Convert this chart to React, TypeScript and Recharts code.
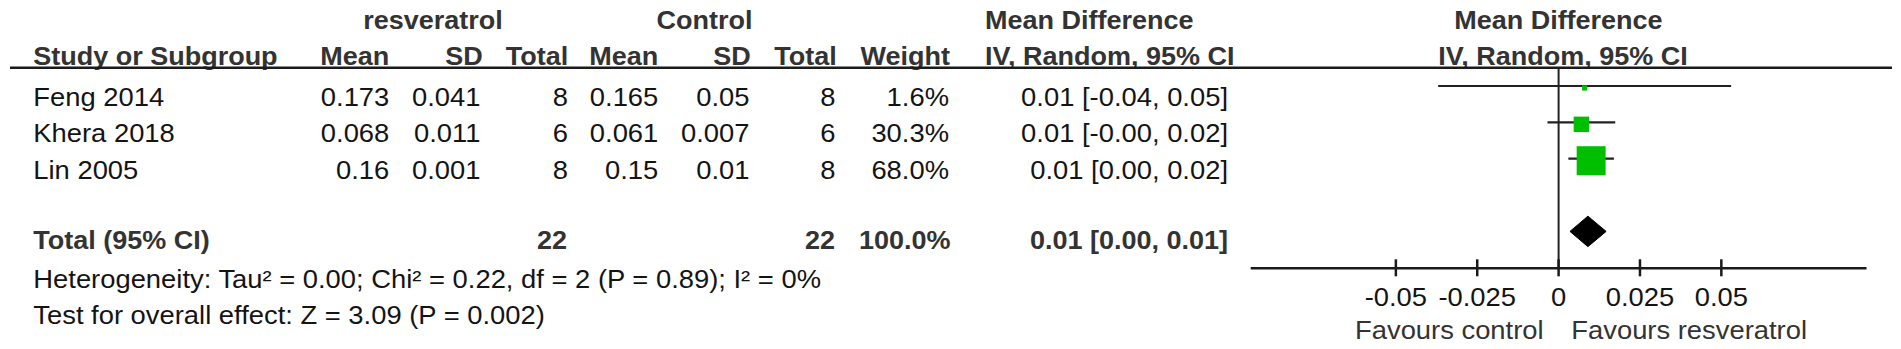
import { Area, ComposedChart, Line, ReferenceLine, Scatter, XAxis, YAxis } from 'recharts'

const STUDIES = ['Feng 2014', 'Khera 2018', 'Lin 2005']
const RES_MEAN = [0.173, 0.068, 0.16]
const RES_SD = [0.041, 0.011, 0.001]
const RES_N = [8, 6, 8]
const CTRL_MEAN = [0.165, 0.061, 0.15]
const CTRL_SD = [0.05, 0.007, 0.01]
const CTRL_N = [8, 6, 8]
const WEIGHT = [1.6, 30.3, 68.0]
const MD = [0.008, 0.007, 0.01]
const CI_LOW = [-0.037, -0.0034, 0.003]
const CI_HIGH = [0.053, 0.0174, 0.017]

const TOTAL_MD = 0.009
const TOTAL_LOW = 0.0035
const TOTAL_HIGH = 0.0146
const TOTAL_RES_N = 22
const TOTAL_CTRL_N = 22
const TOTAL_WEIGHT = 100

const HETEROGENEITY = 'Heterogeneity: Tau² = 0.00; Chi² = 0.22, df = 2 (P = 0.89); I² = 0%'
const OVERALL = 'Test for overall effect: Z = 3.09 (P = 0.002)'

const TICKS = [-0.05, -0.025, 0, 0.025, 0.05]
const TICK_LABELS = ['-0.05', '-0.025', '0', '0.025', '0.05']

const W = 1901
const H = 349
const FONT = '"Liberation Sans", Arial, sans-serif'
const HEAD = '#333333'
const BODY = '#141414'
const GREEN = '#00bf00'
const ROW_H = 36.35
const TOTAL_ROW = STUDIES.length + 1
const DIAMOND_HALF = 0.42

const fmtCI = (m: number, lo: number, hi: number) => `${m.toFixed(2)} [${lo.toFixed(2)}, ${hi.toFixed(2)}]`

// RevMan export is a bit wider than Arial, so stretch text horizontally
function Txt({ x, y, anchor = 'start', bold = false, color = BODY, children }: any) {
  const sx = bold ? 1.08 : 1.095
  return (
    <text
      transform={`translate(${x} ${y}) scale(${sx} 1)`}
      textAnchor={anchor}
      fontFamily={FONT}
      fontSize={25}
      fontWeight={bold ? 700 : 400}
      fill={color}
    >
      {children}
    </text>
  )
}

function AxisTick(props: any) {
  const { x, y, payload } = props
  const i = TICKS.indexOf(payload.value)
  return (
    <g>
      <line x1={x} x2={x} y1={y - 9} y2={y + 8} stroke="#1a1a1a" strokeWidth={2.5} />
      <Txt x={x} y={y + 37.7} anchor="middle">{TICK_LABELS[i] ?? String(payload.value)}</Txt>
      {payload.value === 0 && (
        <>
          <Txt x={x - 15} y={y + 71} anchor="end" color={HEAD}>Favours control</Txt>
          <Txt x={x + 12.7} y={y + 71} color={HEAD}>Favours resveratrol</Txt>
        </>
      )}
    </g>
  )
}

function Square(props: any) {
  const { cx, cy, payload } = props
  const side = 4.6 + 0.358 * payload.weight
  return <rect x={cx - side / 2} y={cy + 2 - side / 2} width={side} height={side} fill={GREEN} />
}

export default function App() {
  const points = STUDIES.map((name, i) => ({ name, x: MD[i], y: i, weight: WEIGHT[i] }))
  const ciLines = STUDIES.map((_, i) => [
    { x: CI_LOW[i], y: i },
    { x: CI_HIGH[i], y: i },
  ])
  const diamond = [
    { x: TOTAL_LOW, band: [TOTAL_ROW, TOTAL_ROW] },
    { x: TOTAL_MD, band: [TOTAL_ROW - DIAMOND_HALF, TOTAL_ROW + DIAMOND_HALF] },
    { x: TOTAL_HIGH, band: [TOTAL_ROW, TOTAL_ROW] },
  ]

  const rowY = (i: number) => 106 + i * ROW_H
  const totalY = 248.8

  return (
    <div style={{ position: 'absolute', left: 0, top: 0, width: W, height: H, background: '#fff' }}>
      <ComposedChart width={W} height={H} margin={{ top: 67.7, right: 34.5, bottom: 0, left: 1250.7 }}>
        <XAxis
          type="number"
          dataKey="x"
          domain={[-0.0946, 0.0946]}
          allowDataOverflow
          ticks={TICKS}
          interval={0}
          height={80.7}
          tickSize={0}
          tickMargin={0}
          tickLine={false}
          axisLine={{ stroke: '#1a1a1a', strokeWidth: 2.5 }}
          tick={(p: any) => <AxisTick {...p} />}
        />
        <YAxis type="number" dataKey="y" domain={[-0.503, 5.015]} allowDataOverflow reversed hide width={0} />
        <ReferenceLine x={0} stroke="#222" strokeWidth={2} />
        {ciLines.map((d, i) => (
          <Line
            key={STUDIES[i]}
            data={d}
            dataKey="y"
            stroke="#222"
            strokeWidth={2.2}
            dot={false}
            activeDot={false}
            isAnimationActive={false}
          />
        ))}
        <Scatter data={points} dataKey="y" shape={(p: any) => <Square {...p} />} isAnimationActive={false} />
        <Area
          data={diamond}
          dataKey="band"
          type="linear"
          stroke="#000"
          strokeWidth={1}
          fill="#000"
          fillOpacity={1}
          dot={false}
          activeDot={false}
          isAnimationActive={false}
        />
      </ComposedChart>

      <svg width={W} height={H} style={{ position: 'absolute', left: 0, top: 0, pointerEvents: 'none' }}>
        {/* header row 1 */}
        <Txt x={433} y={28.5} anchor="middle" bold color={HEAD}>resveratrol</Txt>
        <Txt x={704.5} y={28.5} anchor="middle" bold color={HEAD}>Control</Txt>
        <Txt x={985} y={28.5} bold color={HEAD}>Mean Difference</Txt>
        <Txt x={1558.4} y={28.5} anchor="middle" bold color={HEAD}>Mean Difference</Txt>

        {/* header row 2 */}
        <Txt x={33.3} y={65} bold color={HEAD}>Study or Subgroup</Txt>
        <Txt x={389.3} y={65} anchor="end" bold color={HEAD}>Mean</Txt>
        <Txt x={482.7} y={65} anchor="end" bold color={HEAD}>SD</Txt>
        <Txt x={568.3} y={65} anchor="end" bold color={HEAD}>Total</Txt>
        <Txt x={658.3} y={65} anchor="end" bold color={HEAD}>Mean</Txt>
        <Txt x={750.7} y={65} anchor="end" bold color={HEAD}>SD</Txt>
        <Txt x={836.7} y={65} anchor="end" bold color={HEAD}>Total</Txt>
        <Txt x={950} y={65} anchor="end" bold color={HEAD}>Weight</Txt>
        <Txt x={985} y={65} bold color={HEAD}>IV, Random, 95% CI</Txt>
        <Txt x={1563} y={65} anchor="middle" bold color={HEAD}>IV, Random, 95% CI</Txt>
        <line x1={10} x2={1892} y1={67.7} y2={67.7} stroke="#1a1a1a" strokeWidth={2.5} />

        {/* study rows */}
        {STUDIES.map((name, i) => (
          <g key={name}>
            <Txt x={33.3} y={rowY(i)}>{name}</Txt>
            <Txt x={389.3} y={rowY(i)} anchor="end">{String(RES_MEAN[i])}</Txt>
            <Txt x={480.5} y={rowY(i)} anchor="end">{String(RES_SD[i])}</Txt>
            <Txt x={568} y={rowY(i)} anchor="end">{String(RES_N[i])}</Txt>
            <Txt x={658.3} y={rowY(i)} anchor="end">{String(CTRL_MEAN[i])}</Txt>
            <Txt x={749.5} y={rowY(i)} anchor="end">{String(CTRL_SD[i])}</Txt>
            <Txt x={835.5} y={rowY(i)} anchor="end">{String(CTRL_N[i])}</Txt>
            <Txt x={949} y={rowY(i)} anchor="end">{`${WEIGHT[i].toFixed(1)}%`}</Txt>
            <Txt x={1228} y={rowY(i)} anchor="end">{fmtCI(MD[i], CI_LOW[i], CI_HIGH[i])}</Txt>
          </g>
        ))}

        {/* total row */}
        <Txt x={33.3} y={totalY} bold color={HEAD}>Total (95% CI)</Txt>
        <Txt x={567} y={totalY} anchor="end" bold color={HEAD}>{String(TOTAL_RES_N)}</Txt>
        <Txt x={835} y={totalY} anchor="end" bold color={HEAD}>{String(TOTAL_CTRL_N)}</Txt>
        <Txt x={950.5} y={totalY} anchor="end" bold color={HEAD}>{`${TOTAL_WEIGHT.toFixed(1)}%`}</Txt>
        <Txt x={1228} y={totalY} anchor="end" bold color={HEAD}>{fmtCI(TOTAL_MD, TOTAL_LOW, TOTAL_HIGH)}</Txt>

        <Txt x={33.3} y={288.3}>{HETEROGENEITY}</Txt>
        <Txt x={33.3} y={324}>{OVERALL}</Txt>
      </svg>
    </div>
  )
}
